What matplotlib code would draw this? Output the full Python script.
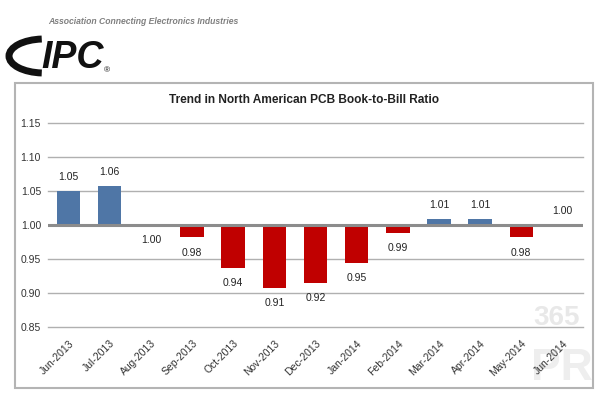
import matplotlib
matplotlib.use("Agg")
import matplotlib.pyplot as plt
from matplotlib.patches import Rectangle, Arc

plt.rcParams['font.family'] = ['Liberation Sans', 'DejaVu Sans']

months = ["Jun-2013", "Jul-2013", "Aug-2013", "Sep-2013", "Oct-2013", "Nov-2013",
          "Dec-2013", "Jan-2014", "Feb-2014", "Mar-2014", "Apr-2014", "May-2014", "Jun-2014"]
ratios = [1.050, 1.057, 1.000, 0.982, 0.937, 0.908, 0.915, 0.945, 0.989, 1.009, 1.009, 0.982, 1.000]
labels = ["1.05", "1.06", "1.00", "0.98", "0.94", "0.91", "0.92", "0.95", "0.99", "1.01", "1.01", "0.98", "1.00"]
label_above = [True, True, False, False, False, False, False, False, False, True, True, False, True]
yticks = [0.85, 0.90, 0.95, 1.00, 1.05, 1.10, 1.15]

BLUE = "#4F76A6"
RED = "#C00000"

fig = plt.figure(figsize=(6.0, 3.96), dpi=100)
fig.patch.set_facecolor("white")

# faint watermark (behind everything)
fig.text(557/600, 1-318/396, "365", ha="center", va="center", fontsize=20,
         fontweight="bold", color="#e8e8e8", zorder=-5)
fig.text(562/600, 1-368/396, "PR", ha="center", va="center", fontsize=32,
         fontweight="bold", color="#eeeeee", zorder=-5)

# outer frame
fig.patches.append(Rectangle((15/600, 1-388/396), (593-15)/600, (388-83)/396,
                             transform=fig.transFigure, fill=False,
                             edgecolor="#b4b4b4", linewidth=1.5, zorder=0))

ax = fig.add_axes([48/600, 1-327.3/396, (583-48)/600, (327.3-122.7)/396])
ax.set_facecolor("none")
ax.set_xlim(-0.5, len(months)-0.5)
ax.set_ylim(0.85, 1.15)
ax.set_yticks(yticks)
ax.set_yticklabels([f"{v:.2f}" for v in yticks])
for v in yticks:
    if abs(v-1.0) < 1e-9:
        ax.axhline(v, color="#8c8c8c", lw=2.2, zorder=3)
    else:
        ax.axhline(v, color="#b0b0b0", lw=1.0, zorder=0, clip_on=False)

x = list(range(len(months)))
heights = [r - 1.0 for r in ratios]
colors = [BLUE if h > 0 else RED for h in heights]
ax.bar(x, heights, bottom=1.0, width=0.57, color=colors, zorder=2,
       edgecolor="none")

for xi, r, lab, up in zip(x, ratios, labels, label_above):
    ax.annotate(lab, (xi, r), xytext=(0, 10 if up else -11), textcoords="offset points",
                ha="center", va="center", fontsize=7.5, color="#222222")

for s in ax.spines.values():
    s.set_visible(False)
ax.tick_params(axis="both", length=0, labelsize=7.5, colors="#333333")
ax.tick_params(axis="y", pad=5)
ax.set_xticks(x)
ax.set_xticklabels(months, rotation=45, ha="right", rotation_mode="anchor")
ax.tick_params(axis="x", pad=8)

fig.text(304/600, 1-100/396, "Trend in North American PCB Book-to-Bill Ratio",
         ha="center", va="center", fontsize=8.6, fontweight="bold", color="#222222")

# header
fig.text(48/600, 1-22/396, "Association Connecting Electronics Industries",
         ha="left", va="center", fontsize=6.2, fontstyle="italic", fontweight="bold",
         color="#808080")
fig.text(41/600, 1-58/396, "IPC", ha="left", va="center", fontsize=27,
         fontstyle="italic", fontweight="bold", color="#111111")
fig.text(104/600, 1-71/396, "®", ha="left", va="center", fontsize=6, color="#111111")
fig.patches.append(Arc((44/600, 1-56/396), 70/600, 34/396, theta1=95, theta2=265,
                       transform=fig.transFigure, color="#111111", lw=5))

fig.savefig("out.png", dpi=100, facecolor="white")
